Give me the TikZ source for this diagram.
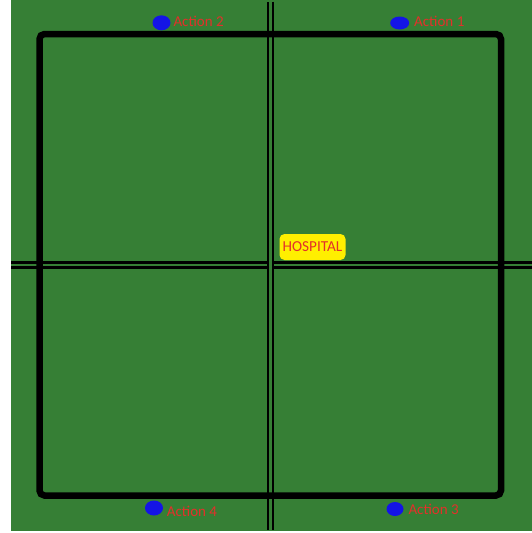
\documentclass[tikz,border=0pt]{standalone}
\usepackage{fontspec}
\setmainfont{Carlito}
\usepackage{xcolor}
\usetikzlibrary{positioning,shapes.geometric}
\definecolor{mapgreen}{HTML}{367F35}
\definecolor{spotblue}{HTML}{1414E6}
\definecolor{labelred}{HTML}{E3302A}
\definecolor{signyellow}{HTML}{FFEF00}

\begin{document}
\begin{tikzpicture}[
  x=1pt, y=-1pt,
  font=\fontsize{15}{18}\selectfont,
  road/.style={draw=black,line width=2.9pt,double=mapgreen,double distance=2.1pt},
  block/.style={draw=black,line width=6.5pt,rounded corners=5pt},
  spot/.style={ellipse,fill=spotblue,inner sep=0pt,minimum width=18pt,minimum height=15pt},
  lbl/.style={text=labelred,inner sep=0pt,anchor=base west},
  sign/.style={fill=signyellow,rounded corners=5pt,text=labelred,inner xsep=3.2pt,
               minimum height=26pt,font=\fontsize{15.2}{18}\selectfont}
]
\useasboundingbox (0,0) rectangle (532,533);
% ground
\fill[mapgreen] (11,0) rectangle (532,531);

% roads
\coordinate (west) at (11,265);
\coordinate (east) at (532,265);
\coordinate (north) at (270.5,1.5);
\coordinate (south) at (270.5,530);
\draw[road] (west) -- (east);
\draw[road] (north) -- (south);

% block outline
\draw[block] (39.5,34) rectangle (501,495.5);

% hospital sign
\node[sign] (hospital) at (312.5,247) {HOSPITAL};

% action spots
\node[spot] (spot2) at (161.5,22.8) {};
\node[lbl] (act2) at (173.3,26.7) {Action 2};
\node[spot,minimum width=19pt,minimum height=13pt] (spot1) at (399.7,23) {};
\node[lbl] (act1) at (414,26.7) {Action 1};
\node[spot] (spot4) at (154,508) {};
\node[lbl] (act4) at (166.7,516.7) {Action 4};
\node[spot,minimum width=17pt,minimum height=14pt] (spot3) at (395,509) {};
\node[lbl] (act3) at (408.3,514.3) {Action 3};
\end{tikzpicture}
\end{document}
